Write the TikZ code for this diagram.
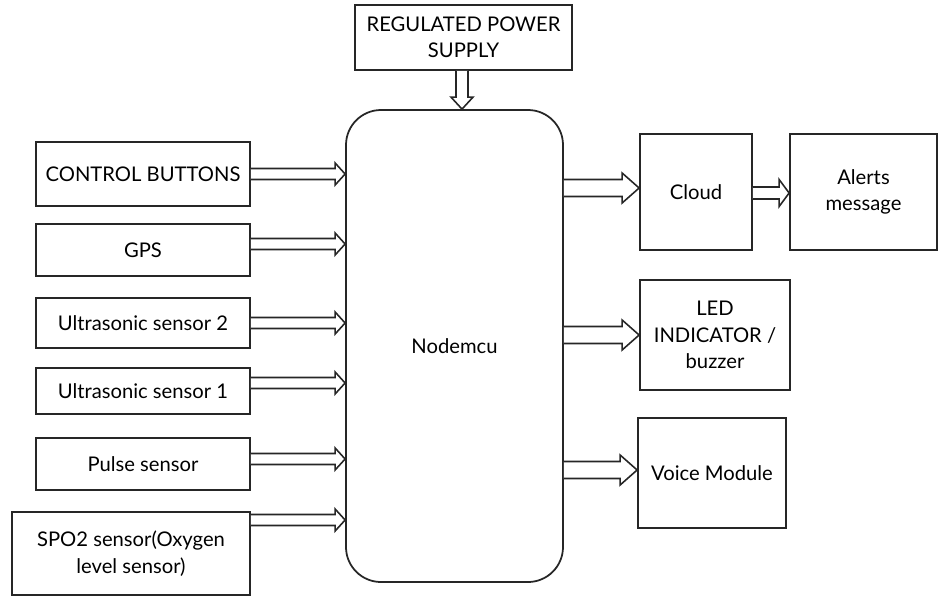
\documentclass[tikz,border=0pt]{standalone}
\usepackage{fontspec}
\setmainfont{Lato}
\usetikzlibrary{calc}

\tikzset{
  blk/.style={draw=black!85, line width=1pt, align=center, font=\fontsize{11.5}{15}\selectfont},
  flowline/.style={draw=black!85, line width=0.9pt, line join=miter, fill=white}
}
% hollow block arrows: from, to, shaft half width, head half width, head length
\newcommand\hflow[5]{%
  \draw[flowline] let \p1=(#1), \p2=(#2) in
    (\x1,\y1+#3) -- (\x2-#5,\y1+#3) -- (\x2-#5,\y1+#4) -- (\x2,\y1)
    -- (\x2-#5,\y1-#4) -- (\x2-#5,\y1-#3) -- (\x1,\y1-#3);
}
\newcommand\vflow[5]{%
  \draw[flowline] let \p1=(#1), \p2=(#2) in
    (\x1-#3,\y1) -- (\x1-#3,\y2+#5) -- (\x1-#4,\y2+#5) -- (\x1,\y2)
    -- (\x1+#4,\y2+#5) -- (\x1+#3,\y2+#5) -- (\x1+#3,\y1);
}

\begin{document}
\begin{tikzpicture}
  \useasboundingbox (0,0) rectangle (18.76,-11.94);

  % controller and supply
  \node[blk, minimum width=4.34cm, minimum height=9.44cm, rounded corners=0.7cm] (mcu) at (9.09,-6.92) {Nodemcu};
  \node[blk, minimum width=4.34cm, minimum height=1.3cm] (pwr) at (9.27,-0.75) {REGULATED POWER\\SUPPLY};

  % inputs
  \node[blk, minimum width=4.28cm, minimum height=1.28cm] (ctrl) at (2.86,-3.48) {CONTROL BUTTONS};
  \node[blk, minimum width=4.28cm, minimum height=1.04cm] (gps) at (2.86,-5.0) {GPS};
  \node[blk, minimum width=4.28cm, minimum height=1.0cm] (usb) at (2.86,-6.46) {Ultrasonic sensor 2};
  \node[blk, minimum width=4.28cm, minimum height=0.92cm] (usa) at (2.86,-7.82) {Ultrasonic sensor 1};
  \node[blk, minimum width=4.28cm, minimum height=1.04cm] (pulse) at (2.86,-9.28) {Pulse sensor};
  \node[blk, minimum width=4.76cm, minimum height=1.66cm] (spo) at (2.62,-11.07) {SPO2 sensor(Oxygen\\level sensor)};

  % outputs
  \node[blk, minimum width=2.24cm, minimum height=2.32cm] (cloud) at (13.92,-3.84) {Cloud};
  \node[blk, minimum width=2.94cm, minimum height=2.32cm] (alert) at (17.27,-3.84) {Alerts\\message};
  \node[blk, minimum width=3.0cm, minimum height=2.2cm] (led) at (14.30,-6.70) {LED\\INDICATOR /\\buzzer};
  \node[blk, minimum width=2.96cm, minimum height=2.2cm] (voice) at (14.24,-9.46) {Voice Module};

  \path (pwr.south -| 9.24,0) coordinate (p1) (mcu.north -| 9.24,0) coordinate (p2);
  \vflow{p1}{p2}{0.12cm}{0.22cm}{0.24cm}

  \foreach \b/\d in {ctrl/0, gps/0.12, usb/0, usa/0.16, pulse/0.1, spo/0.67}{
    \path ([yshift=\d cm]\b.east) coordinate (s-\b);
    \path (s-\b -| mcu.west) coordinate (e-\b);
    \hflow{s-\b}{e-\b}{0.11cm}{0.22cm}{0.2cm}
  }

  \foreach \b/\d in {cloud/0.08, led/0, voice/0.06}{
    \path ([yshift=\d cm]\b.west) coordinate (t-\b);
    \path (t-\b -| mcu.east) coordinate (o-\b);
    \hflow{o-\b}{t-\b}{0.17cm}{0.3cm}{0.34cm}
  }
  \path ([yshift=-0.02cm]cloud.east) coordinate (c1) ([yshift=-0.02cm]alert.west) coordinate (c2);
  \hflow{c1}{c2}{0.12cm}{0.27cm}{0.2cm}
\end{tikzpicture}
\end{document}
